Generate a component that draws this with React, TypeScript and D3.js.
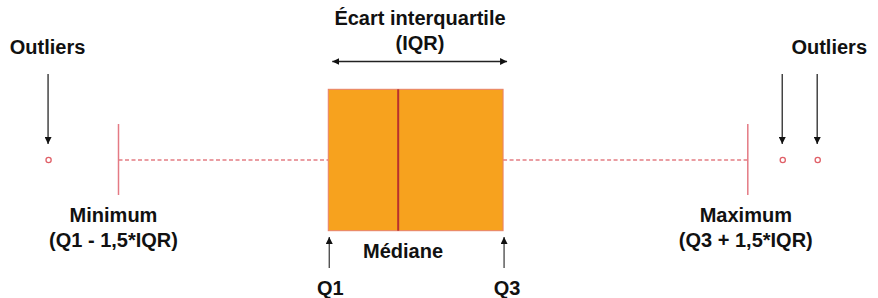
import React from "react";
import * as d3 from "d3";

const outliers = [-8, 76, 80];
const stats = { min: 0, q1: 24, median: 32, q3: 44, max: 72 };
const statLabels = ["Minimum", "(Q1 - 1,5*IQR)", "Maximum", "(Q3 + 1,5*IQR)", "Médiane", "Q1", "Q3"];
const titleLines = ["Écart interquartile", "(IQR)"];
const outlierLabel = "Outliers";

const W = 878;
const H = 298;

export default function App() {
  const x = d3.scaleLinear().domain([stats.min, stats.max]).range([118.5, 747.8]);
  const cy = 160;
  const boxTop = 89.3;
  const boxBot = 230.7;
  const whTop = 124;
  const whBot = 195;
  const font = "'Liberation Sans', Arial, sans-serif";
  const txt = (s: string, tx: number, ty: number, key: string) => (
    <text key={key} x={tx} y={ty} textAnchor="middle" fontFamily={font} fontWeight="bold" fontSize={20} fill="#111">
      {s}
    </text>
  );
  const leftOut = outliers.filter((o) => o < stats.min);
  const rightOut = outliers.filter((o) => o > stats.max);
  const rightOutCenter = (x(rightOut[0]) + x(rightOut[rightOut.length - 1])) / 2 + 29;

  return (
    <div style={{ position: "absolute", left: 0, top: 0 }}>
      <style>{"body{margin:0}"}</style>
      <svg width={W} height={H} style={{ display: "block", background: "#fff" }}>
        <defs>
          <marker id="ah" viewBox="0 0 10 10" refX="10" refY="5" markerWidth="7" markerHeight="7" markerUnits="userSpaceOnUse" orient="auto-start-reverse">
            <path d="M0,0 L10,5 L0,10 z" fill="#111" />
          </marker>
        </defs>
        {/* dashed whiskers */}
        <line x1={x(stats.min)} x2={x(stats.q1)} y1={cy} y2={cy} stroke="#E47E84" strokeWidth={1.3} strokeDasharray="4,2.5" />
        <line x1={x(stats.q3)} x2={x(stats.max)} y1={cy} y2={cy} stroke="#E47E84" strokeWidth={1.3} strokeDasharray="4,2.5" />
        {/* whisker caps */}
        <line x1={x(stats.min)} x2={x(stats.min)} y1={whTop} y2={whBot} stroke="#E47A84" strokeWidth={1.5} />
        <line x1={x(stats.max)} x2={x(stats.max)} y1={whTop} y2={whBot} stroke="#E47A84" strokeWidth={1.5} />
        {/* box */}
        <rect x={x(stats.q1)} y={boxTop} width={x(stats.q3) - x(stats.q1)} height={boxBot - boxTop} fill="#F7A21E" stroke="#E8806A" strokeWidth={1} />
        <line x1={x(stats.median)} x2={x(stats.median)} y1={boxTop} y2={boxBot} stroke="#B8302E" strokeWidth={2} />
        {/* outliers */}
        {outliers.map((o, i) => (
          <circle key={"o" + i} cx={x(o)} cy={cy} r={2.6} fill="none" stroke="#E06068" strokeWidth={1.3} />
        ))}
        {/* outlier arrows */}
        {outliers.map((o, i) => (
          <line key={"a" + i} x1={x(o) - 0.5} x2={x(o) - 0.5} y1={74} y2={144} stroke="#444" strokeWidth={1.5} markerEnd="url(#ah)" />
        ))}
        {/* IQR arrow */}
        <line x1={x(stats.q1) + 4} x2={x(stats.q3) + 4} y1={61.5} y2={61.5} stroke="#222" strokeWidth={1.3} markerStart="url(#ah)" markerEnd="url(#ah)" />
        {/* Q arrows */}
        <line x1={x(stats.q1) + 1} x2={x(stats.q1) + 1} y1={268} y2={237} stroke="#444" strokeWidth={1.3} markerEnd="url(#ah)" />
        <line x1={x(stats.q3) + 1} x2={x(stats.q3) + 1} y1={268} y2={237} stroke="#444" strokeWidth={1.3} markerEnd="url(#ah)" />
        {/* texts */}
        {txt(titleLines[0], 420, 25, "t0")}
        {txt(titleLines[1], 420, 50, "t1")}
        {txt(outlierLabel, x(leftOut[0]) - 1, 54, "ol")}
        {txt(outlierLabel, rightOutCenter, 54, "or")}
        {txt(statLabels[0], x(stats.min) - 5, 222, "mn")}
        {txt(statLabels[1], x(stats.min) - 5, 247, "mn2")}
        {txt(statLabels[2], x(stats.max) - 2, 222, "mx")}
        {txt(statLabels[3], x(stats.max) - 2, 247, "mx2")}
        {txt(statLabels[4], 403, 258, "md")}
        {txt(statLabels[5], x(stats.q1) + 2, 295, "q1")}
        {txt(statLabels[6], x(stats.q3) + 4, 295, "q3")}
      </svg>
    </div>
  );
}
